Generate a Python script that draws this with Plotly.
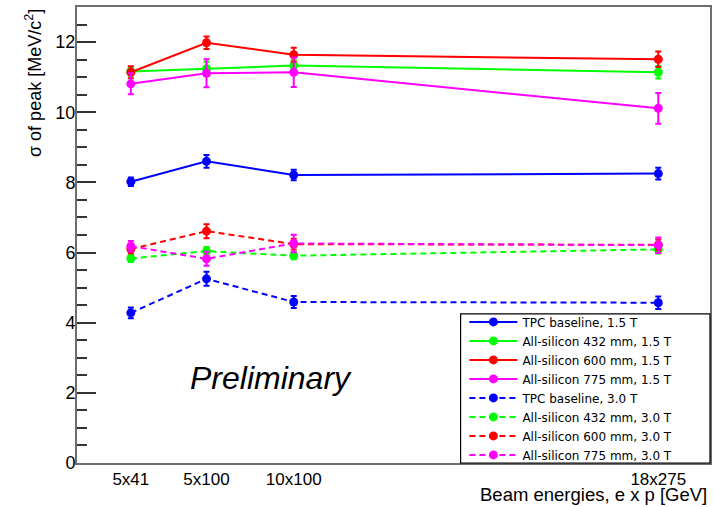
import plotly.graph_objects as go

# Beam energy configurations (x placed at sqrt(s) in GeV)
categories = ["5x41", "5x100", "10x100", "18x275"]
x_pos = [28.64, 44.72, 63.25, 140.71]

names = [
    "TPC baseline, 1.5 T",
    "All-silicon 432 mm, 1.5 T",
    "All-silicon 600 mm, 1.5 T",
    "All-silicon 775 mm, 1.5 T",
    "TPC baseline, 3.0 T",
    "All-silicon 432 mm, 3.0 T",
    "All-silicon 600 mm, 3.0 T",
    "All-silicon 775 mm, 3.0 T",
]

tpc_15 = [8.02, 8.60, 8.21, 8.25]
si432_15 = [11.16, 11.24, 11.33, 11.14]
si600_15 = [11.14, 11.98, 11.64, 11.51]
si775_15 = [10.81, 11.11, 11.14, 10.11]
tpc_30 = [4.28, 5.25, 4.59, 4.57]
si432_30 = [5.83, 6.04, 5.91, 6.09]
si600_30 = [6.10, 6.61, 6.24, 6.22]
si775_30 = [6.18, 5.82, 6.26, 6.21]

err_tpc_15 = [0.12, 0.18, 0.15, 0.17]
err_si432_15 = [0.12, 0.20, 0.15, 0.18]
err_si600_15 = [0.17, 0.18, 0.20, 0.22]
err_si775_15 = [0.30, 0.40, 0.42, 0.44]
err_tpc_30 = [0.15, 0.20, 0.17, 0.18]
err_si432_30 = [0.10, 0.12, 0.10, 0.12]
err_si600_30 = [0.12, 0.20, 0.15, 0.15]
err_si775_30 = [0.15, 0.20, 0.25, 0.22]

series = [tpc_15, si432_15, si600_15, si775_15, tpc_30, si432_30, si600_30, si775_30]
errors = [err_tpc_15, err_si432_15, err_si600_15, err_si775_15,
          err_tpc_30, err_si432_30, err_si600_30, err_si775_30]
colors = ["#0000ff", "#00ff00", "#ff0000", "#ff00ff"] * 2
dashes = ["solid"] * 4 + ["6px,4px"] * 4

FONT = "Liberation Sans, Arial, Helvetica, sans-serif"
LEGFONT = "DejaVu Sans, Liberation Sans, sans-serif"

fig = go.Figure()
for name, ys, es, c, d in zip(names, series, errors, colors, dashes):
    fig.add_trace(go.Scatter(
        x=x_pos, y=ys, name=name, mode="lines+markers",
        line=dict(color=c, width=2, dash=d),
        marker=dict(color=c, size=9, symbol="circle"),
        error_y=dict(type="data", array=es, visible=True, color=c, thickness=2, width=3),
    ))

fig.update_layout(
    width=714, height=507,
    margin=dict(l=77, r=4, t=7, b=44, autoexpand=False),
    paper_bgcolor="white", plot_bgcolor="white",
    font=dict(family=FONT, color="black"),
    showlegend=True,
    legend=dict(
        x=0.612, y=-0.014, xanchor="left", yanchor="bottom",
        bgcolor="rgba(255,255,255,0)", borderwidth=0,
        font=dict(size=12, family=LEGFONT), itemwidth=48,
        tracegroupgap=0,
    ),
    xaxis=dict(
        range=[17.2, 151.7], tickmode="array", tickvals=x_pos, ticktext=categories,
        ticks="", showgrid=False, zeroline=False,
        showline=True, linecolor="#6e6e6e", linewidth=2, mirror=True,
        tickfont=dict(size=17, family=FONT),
    ),
    yaxis=dict(
        range=[0, 13], dtick=2, tick0=0, ticks="inside", ticklen=19, tickwidth=1.5,
        tickcolor="#333333", showgrid=False, zeroline=False,
        showline=True, linecolor="#6e6e6e", linewidth=2, mirror=True,
        tickfont=dict(size=18, family=FONT), ticklabelstandoff=-4,
        minor=dict(dtick=0.5, ticks="inside", ticklen=10, tickwidth=1.5, tickcolor="#333333", showgrid=False),
    ),
    shapes=[dict(type="rect", xref="paper", yref="paper", x0=0.606, x1=1.0, y0=0.0, y1=0.327,
                 line=dict(color="black", width=1.2), fillcolor="rgba(0,0,0,0)", layer="above")],
    annotations=[
        dict(text="σ of peak [MeV/c<sup>2</sup>]", xref="paper", yref="paper",
             x=-0.0695, y=1.0, xanchor="center", yanchor="top", textangle=-90,
             showarrow=False, font=dict(size=18, family=FONT)),
        dict(text="Beam energies, e x p [GeV]", xref="paper", yref="paper",
             x=0.998, y=-0.068, xanchor="right", yanchor="middle",
             showarrow=False, font=dict(size=18.5, family=FONT)),
        dict(text="<i>Preliminary</i>", xref="paper", yref="paper",
             x=0.306, y=0.1875, xanchor="center", yanchor="middle",
             showarrow=False, font=dict(size=32, family=FONT)),
    ],
)

fig.write_html("out.html", config={"displayModeBar": False},
               post_script="document.body.style.margin='0';")
